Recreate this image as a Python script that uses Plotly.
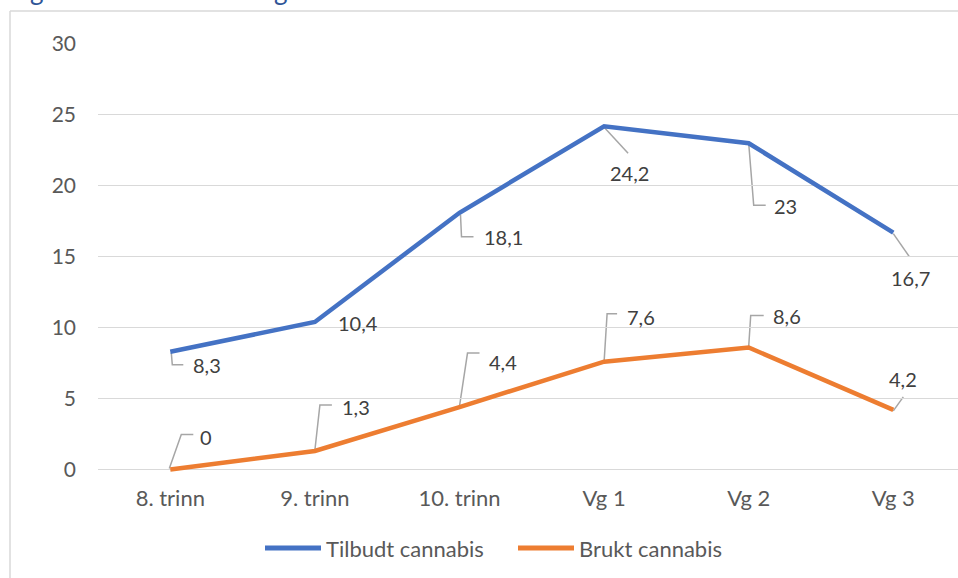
import plotly.graph_objects as go

# ---- data ----
categories = ["8. trinn", "9. trinn", "10. trinn", "Vg 1", "Vg 2", "Vg 3"]
tilbudt = [8.3, 10.4, 18.1, 24.2, 23, 16.7]
brukt = [0, 1.3, 4.4, 7.6, 8.6, 4.2]
series_names = ["Tilbudt cannabis", "Brukt cannabis"]
y_ticks = [0, 5, 10, 15, 20, 25, 30]

# ---- style / layout ----
BLUE = "#4472C4"
ORANGE = "#ED7D31"
GRID = "#d9d9d9"
TICK_COL = "#595959"
LABEL_COL = "#404040"
LEADER = "#a6a6a6"
FONT = "Lato"
FS_LABEL = 20
FS_YTICK = 21
FS_TEXT = 22

W, H = 958, 578
ML, MR, MT, MB = 98, 0, 44, 105
PW = W - ML - MR
PH = H - MT - MB
BOTTOM_PX = MT + PH

def fmt(v):
    return ("%g" % v).replace(".", ",")

# label offsets (pixels; x right, y up) and leader paths relative to point
blue_lab = [(37, -13), (43, -1), (44, -24), (25, -47), (37, -63), (17, -45)]
blue_lead = ["M 1,-1 L 2,-13 L 13,-13", None, "M 1,-2 L 2,-24 L 14,-24",
             "M 0,-1 L 24,-27", "M 0,0 L 5,-62 L 17,-62", "M 0,-1 L 16,-24"]
orange_lab = [(36, 32), (41, 44), (43, 45), (37, 45), (38, 31), (10, 31)]
orange_lead = ["M -1,1 L 11,35 L 23,35", "M 0,1 L 5,46 L 17,46",
               "M 0,1 L 8,54 L 20,54", "M 0,0 L 3,48 L 13,48",
               "M 0,1 L 2,32 L 15,32", "M 0,-1 L 10,13"]

xs = list(range(len(categories)))

fig = go.Figure()
for vals, name, col in [(tilbudt, series_names[0], BLUE), (brukt, series_names[1], ORANGE)]:
    fig.add_trace(go.Scatter(x=xs, y=vals, name=name, mode="lines",
                             line=dict(color=col, width=4.5, shape="linear"),
                             showlegend=False, hoverinfo="skip"))

annotations = []
shapes = []
for vals, labs, leads in [(tilbudt, blue_lab, blue_lead), (brukt, orange_lab, orange_lead)]:
    for i, v in enumerate(vals):
        dx, dy = labs[i]
        annotations.append(dict(x=xs[i], y=v, xref="x", yref="y", text=fmt(v),
                                showarrow=False, xshift=dx, yshift=dy,
                                xanchor="center", yanchor="middle",
                                font=dict(family=FONT, size=FS_LABEL, color=LABEL_COL)))
        if leads[i]:
            shapes.append(dict(type="path", xref="x", yref="y",
                               xsizemode="pixel", ysizemode="pixel",
                               xanchor=xs[i], yanchor=v, path=leads[i],
                               line=dict(color=LEADER, width=1.5), layer="below"))

def px_to_paper_x(px):
    return (px - ML) / PW

def px_to_paper_y(py):
    return (BOTTOM_PX - py) / PH

# chart-area border (left and top)
shapes.append(dict(type="line", xref="paper", yref="paper",
                   x0=px_to_paper_x(10), x1=px_to_paper_x(10),
                   y0=px_to_paper_y(600), y1=px_to_paper_y(11),
                   line=dict(color=GRID, width=1.5)))
shapes.append(dict(type="line", xref="paper", yref="paper",
                   x0=px_to_paper_x(10), x1=px_to_paper_x(1000),
                   y0=px_to_paper_y(11), y1=px_to_paper_y(11),
                   line=dict(color=GRID, width=1.5)))

# legend (drawn manually)
leg_y = px_to_paper_y(548)
for (x0, x1, tx), name, col in [((265, 321, 324), series_names[0], BLUE),
                                ((518, 574, 577), series_names[1], ORANGE)]:
    shapes.append(dict(type="line", xref="paper", yref="paper",
                       x0=px_to_paper_x(x0), x1=px_to_paper_x(x1), y0=leg_y, y1=leg_y,
                       line=dict(color=col, width=5)))
    annotations.append(dict(x=px_to_paper_x(tx), y=leg_y, xref="paper", yref="paper",
                            text=name, showarrow=False, xanchor="left", yanchor="middle",
                            font=dict(family=FONT, size=FS_TEXT, color=TICK_COL)))

# cut-off title remnants at top
for px in [37, 281]:
    annotations.append(dict(x=px_to_paper_x(px), y=px_to_paper_y(8), xref="paper", yref="paper",
                            text="g", showarrow=False, xanchor="center", yanchor="bottom",
                            font=dict(family=FONT, size=26, color="#2F5597")))

fig.update_layout(
    width=W, height=H,
    margin=dict(l=ML, r=MR, t=MT, b=MB, pad=0),
    paper_bgcolor="white", plot_bgcolor="white",
    showlegend=False,
    annotations=annotations, shapes=shapes,
    xaxis=dict(range=[-0.5, -0.5 + PW / 144.6], tickvals=xs, ticktext=categories,
               showgrid=False, zeroline=False, showline=False, ticks="",
               tickfont=dict(family=FONT, size=FS_TEXT, color=TICK_COL),
               ticklabelstandoff=10, fixedrange=True),
    yaxis=dict(range=[-0.25, 30], tickvals=y_ticks, ticktext=[str(t) for t in y_ticks],
               showgrid=True, gridcolor=GRID, gridwidth=1,
               zeroline=True, zerolinecolor=GRID, zerolinewidth=1,
               showline=False, ticks="",
               tickfont=dict(family=FONT, size=FS_YTICK, color=TICK_COL),
               ticklabelstandoff=21, fixedrange=True),
)

fig.write_html("out.html")
